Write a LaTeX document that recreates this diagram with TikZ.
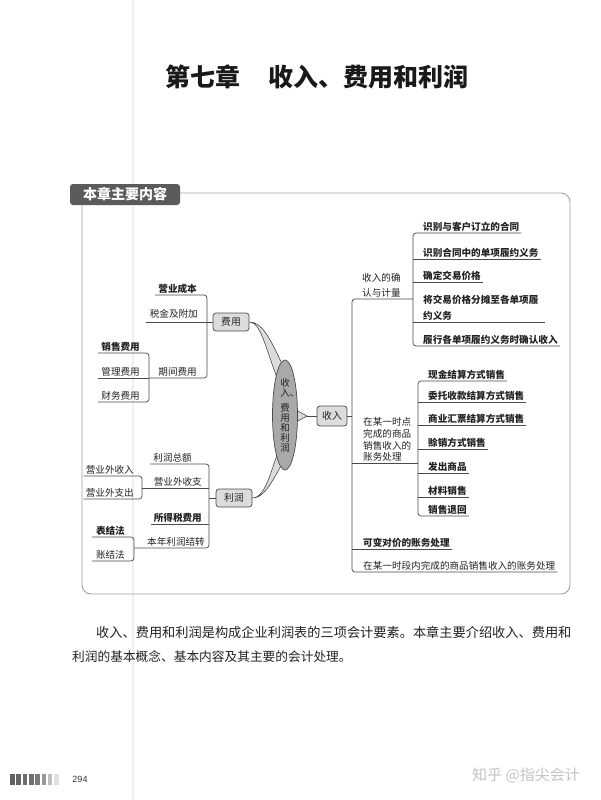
\documentclass[tikz,border=0pt]{standalone}
\usepackage{fontspec}
\setmainfont{Noto Sans CJK SC}
\newfontfamily\latinsans{Liberation Sans}
\usetikzlibrary{shapes.geometric}
\definecolor{ln}{HTML}{4a4a4a}
\definecolor{tx}{HTML}{222222}
\definecolor{frm}{HTML}{a0a0a0}
\definecolor{hdr}{HTML}{5b5b5b}
\definecolor{hubfill}{HTML}{dcdcdc}
\definecolor{ctrfill}{HTML}{a9a9a9}
\definecolor{wm}{HTML}{c4c4c4}
\tikzset{
  leaf/.style={inner sep=0pt, text=tx, font=\fontsize{9.6}{11.7}\selectfont},
  boldleaf/.style={inner sep=0pt, text=tx, font=\fontsize{9.6}{11.7}\selectfont\bfseries},
  br/.style={draw=ln, line width=0.7pt, rounded corners=3pt},
  hub/.style={draw=ln, fill=hubfill, rounded corners=3pt, minimum width=36pt, minimum height=18pt, inner sep=1pt, text=tx, font=\fontsize{9.8}{11}\selectfont, line width=0.7pt},
  wedge/.style={draw=ln, fill=hubfill, line width=0.6pt},
}
\newcommand\Lleaf[5][leaf]{\node[#1,anchor=base east] (#2) at (#3,#4-2.6) {#5};}
\newcommand\Rleaf[5][leaf]{\node[#1,anchor=base west] (#2) at (#3,#4-2.6) {#5};}
\begin{document}
\begin{tikzpicture}[x=1pt,y=-1pt]
\useasboundingbox (0,0) rectangle (600,800);
\fill[white] (0,0) rectangle (600,800);
\draw[black!6, line width=1.2pt] (133,0) -- (133,800);

% title
\node[anchor=west, inner sep=0, font=\fontsize{25}{25}\selectfont\bfseries, text=black!90] (t1) at (165,77) {第七章};
\node[anchor=west, inner sep=0, font=\fontsize{25}{25}\selectfont\bfseries, text=black!90] (t2) at (268,77) {收入、费用和利润};

% frame
\draw[frm, line width=0.9pt, rounded corners=9pt] (82,193) rectangle (570,594);
\node[fill=hdr, rounded corners=3pt, minimum width=110pt, minimum height=21pt, inner sep=0, text=white, font=\fontsize{14}{14}\selectfont\bfseries] (hd) at (125,194.5) {本章主要内容};

% wedges to centre
\node[hub] (fy) at (231,322) {费用};
\node[hub] (lr) at (234,498) {利润};
\node[hub, minimum width=30pt, minimum height=20pt] (sr) at (332,416) {收入};
\filldraw[wedge] (fy.east) .. controls (262,322) and (270,338) .. (283,366) -- (278,380) .. controls (266,350) and (261,322) .. (fy.east);
\filldraw[wedge] (lr.east) .. controls (264,498) and (269,478) .. (278,452) -- (282,464) .. controls (270,486) and (263,498) .. (lr.east);
\filldraw[wedge] (294,409) -- (307,416) -- (294,423) -- cycle;
\draw[br] (307,416) -- (sr.west);
\node[ellipse, draw=ln, fill=ctrfill, line width=0.7pt, minimum width=25pt, minimum height=110pt, inner sep=0, align=center, text=tx, font=\fontsize{9.5}{10}\selectfont] (ctr) at (285,415) {收\\入\rlap{、}\\[5pt]费\\用\\和\\利\\润};

% ---- 费用 branch
\Lleaf[boldleaf]{yycb}{197}{295}{营业成本}
\node[leaf,anchor=base east] (sjfj) at (198,317) {税金及附加};
\Lleaf{qjfy}{197}{378}{期间费用}
\draw[br] ([xshift=-3pt,yshift=-2.6pt]yycb.base west) -- (207,295) -- (207,378) -- (149,378);
\draw[br] ([xshift=-4pt,yshift=-5pt]sjfj.base west) -- (fy.west);
\Lleaf[boldleaf]{xsfy}{140}{353}{销售费用}
\Lleaf{glfy}{140}{378}{管理费用}
\Lleaf{cwfy}{140}{402}{财务费用}
\draw[br] ([xshift=-3pt,yshift=-2.6pt]xsfy.base west) -- (149,353) -- (149,402) -- ([xshift=-3pt,yshift=-2.6pt]cwfy.base west);
\draw[br] ([xshift=-3pt,yshift=-2.6pt]glfy.base west) -- (149,378);

% ---- 利润 branch
\Lleaf{lrze}{192}{464}{利润总额}
\Lleaf{yywsz}{202}{488}{营业外收支}
\Lleaf[boldleaf]{sdsfy}{202}{524}{所得税费用}
\Lleaf{bnlr}{205}{548}{本年利润结转}
\draw[br] ([xshift=-3pt,yshift=-2.6pt]lrze.base west) -- (209,464) -- (209,548) -- (134,548);
\draw[br] (142,488) -- (209,488);
\draw[br] ([xshift=-3pt,yshift=-2.6pt]sdsfy.base west) -- (209,524);
\draw[br] (209,498) -- (lr.west);
\Lleaf{yywsr}{134}{476}{营业外收入}
\Lleaf{yywzc}{134}{499}{营业外支出}
\draw[br] ([xshift=-2pt,yshift=-2.6pt]yywsr.base west) -- (142,476) -- (142,499) -- ([xshift=-2pt,yshift=-2.6pt]yywzc.base west);
\Lleaf[boldleaf]{bjf}{125}{537}{表结法}
\Lleaf{zjf}{125}{561}{账结法}
\draw[br] ([xshift=-4pt,yshift=-2.6pt]bjf.base west) -- (134,537) -- (134,561) -- ([xshift=-4pt,yshift=-2.6pt]zjf.base west);

% ---- 收入 branch
\node[leaf,anchor=base west] (qra) at (362,281.7) {收入的确};
\node[leaf,anchor=base west] (qrb) at (362,296.7) {认与计量};
\node[leaf,anchor=base west] (dsa) at (363,425.7) {在某一时点};
\node[leaf,anchor=base west] (dsb) at (363,437.4) {完成的商品};
\node[leaf,anchor=base west] (dsc) at (363,449.1) {销售收入的};
\node[leaf,anchor=base west] (dsd) at (363,460.7) {账务处理};
\Rleaf[boldleaf]{kbdj}{363}{549}{可变对价的账务处理}
\Rleaf{sd}{363}{572}{在某一时段内完成的商品销售收入的账务处理}
\draw[br] (413,299) -- (352,299) -- (352,572) -- ([xshift=2pt,yshift=-2.6pt]sd.base east);
\draw[br] (352,463) -- (418,463);
\draw[br] (352,549) -- ([xshift=2pt,yshift=-2.6pt]kbdj.base east);
\draw[br] (sr.east) -- (352,416);

\Rleaf[boldleaf]{a1}{423}{233}{识别与客户订立的合同}
\Rleaf[boldleaf]{a2}{423}{259}{识别合同中的单项履约义务}
\Rleaf[boldleaf]{a3}{423}{282}{确定交易价格}
\node[boldleaf,anchor=base west] (a4a) at (423,303.7) {将交易价格分摊至各单项履};
\node[boldleaf,anchor=base west] (a4b) at (423,319.4) {约义务};
\Rleaf[boldleaf]{a5}{423}{346}{履行各单项履约义务时确认收入}
\draw[br] ([xshift=2pt,yshift=-2.6pt]a1.base east) -- (413,233) -- (413,346) -- ([xshift=2pt,yshift=-2.6pt]a5.base east);
\draw[br] (413,259) -- ([xshift=2pt,yshift=-2.6pt]a2.base east);
\draw[br] (413,282) -- ([xshift=2pt,yshift=-2.6pt]a3.base east);
\draw[br] (413,322) -- (545,322);

\Rleaf[boldleaf]{b1}{428}{381}{现金结算方式销售}
\Rleaf[boldleaf]{b2}{428}{402}{委托收款结算方式销售}
\Rleaf[boldleaf]{b3}{428}{425}{商业汇票结算方式销售}
\Rleaf[boldleaf]{b4}{428}{449}{赊销方式销售}
\Rleaf[boldleaf]{b5}{428}{473}{发出商品}
\Rleaf[boldleaf]{b6}{428}{497}{材料销售}
\Rleaf[boldleaf]{b7}{428}{516}{销售退回}
\draw[br] ([xshift=2pt,yshift=-2.6pt]b1.base east) -- (418,381) -- (418,516) -- ([xshift=2pt,yshift=-2.6pt]b7.base east);
\foreach \n/\y in {b2/402,b3/425,b4/449,b5/473,b6/497}
  \draw[br] (418,\y) -- ([xshift=2pt,yshift=-2.6pt]\n.base east);

% body text
\node[anchor=west, inner sep=0, font=\fontsize{13.2}{13.2}\selectfont, text=tx] (p1) at (96,632) {收入、费用和利润是构成企业利润表的三项会计要素。本章主要介绍收入、费用和};
\node[anchor=west, inner sep=0, font=\fontsize{12.7}{12.7}\selectfont, text=tx] (p2) at (72,657) {利润的基本概念、基本内容及其主要的会计处理。};

% footer
\foreach \i/\c in {0/62,1/60,2/58,3/56,4/52,5/40,6/25,7/12}
  \fill[black!\c] (10+6.3*\i,774) rectangle ++(4.6,11);
\node[inner sep=0, font=\latinsans\fontsize{9}{9}\selectfont, text=black!80] (pg) at (80,779) {294};
\node[anchor=west, inner sep=0, font=\fontsize{15}{15}\selectfont, text=wm] (wmk) at (472,775) {知乎 @指尖会计};
\end{tikzpicture}
\end{document}
